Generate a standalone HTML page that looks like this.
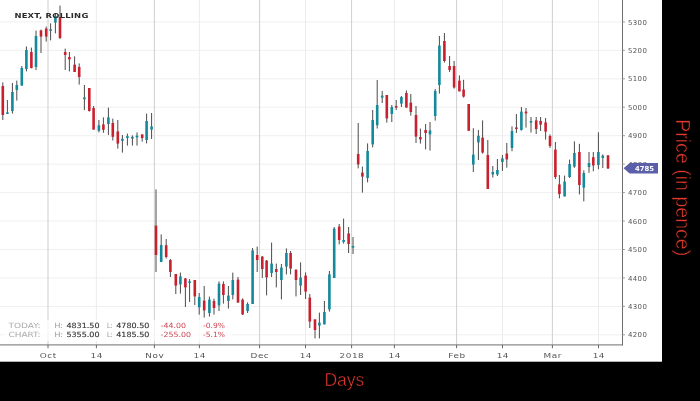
<!DOCTYPE html>
<html><head><meta charset="utf-8"><title>NEXT, ROLLING</title>
<style>
html,body{margin:0;padding:0;background:#000;}
body{width:700px;height:401px;overflow:hidden;position:relative;}
svg{position:absolute;left:0;top:0;display:block;}
.ax{font-family:"DejaVu Sans","Liberation Sans",sans-serif;fill:#555;}
.lg{font-family:"DejaVu Sans","Liberation Sans",sans-serif;font-size:7.2px;}
.ttl{font-family:"DejaVu Sans","Liberation Sans",sans-serif;font-weight:bold;font-size:6.8px;fill:#2a2a2a;}
.big{font-family:"Liberation Sans",sans-serif;fill:#e23a2e;stroke:#000;stroke-width:0.5px;}
</style></head><body>
<svg width="700" height="401" viewBox="0 0 700 401">
<rect x="0" y="0" width="700" height="401" fill="#000"/>
<rect x="0" y="0" width="662" height="361.7" fill="#fff"/>

<g stroke="#efefef" stroke-width="1">
<line x1="0" y1="334.8" x2="622.5" y2="334.8"/>
<line x1="0" y1="306.4" x2="622.5" y2="306.4"/>
<line x1="0" y1="277.9" x2="622.5" y2="277.9"/>
<line x1="0" y1="249.5" x2="622.5" y2="249.5"/>
<line x1="0" y1="221.0" x2="622.5" y2="221.0"/>
<line x1="0" y1="192.6" x2="622.5" y2="192.6"/>
<line x1="0" y1="164.1" x2="622.5" y2="164.1"/>
<line x1="0" y1="135.7" x2="622.5" y2="135.7"/>
<line x1="0" y1="107.2" x2="622.5" y2="107.2"/>
<line x1="0" y1="78.8" x2="622.5" y2="78.8"/>
<line x1="0" y1="50.3" x2="622.5" y2="50.3"/>
<line x1="0" y1="21.9" x2="622.5" y2="21.9"/>
</g>
<g stroke="#cfcfcf" stroke-width="1">
<line x1="48" y1="0" x2="48" y2="344.9"/>
<line x1="154.4" y1="0" x2="154.4" y2="344.9"/>
<line x1="259.6" y1="0" x2="259.6" y2="344.9"/>
<line x1="351.6" y1="0" x2="351.6" y2="344.9"/>
<line x1="456.6" y1="0" x2="456.6" y2="344.9"/>
<line x1="552.4" y1="0" x2="552.4" y2="344.9"/>
</g><g stroke="#ececec" stroke-width="1">
<line x1="96.4" y1="0" x2="96.4" y2="344.9"/>
<line x1="199.4" y1="0" x2="199.4" y2="344.9"/>
<line x1="305.5" y1="0" x2="305.5" y2="344.9"/>
<line x1="394.4" y1="0" x2="394.4" y2="344.9"/>
<line x1="502.5" y1="0" x2="502.5" y2="344.9"/>
<line x1="598.5" y1="0" x2="598.5" y2="344.9"/>
</g>
<g stroke="#4a4a4a" stroke-width="1"><line x1="2.8" y1="82.4" x2="2.8" y2="120.0"/><line x1="7.4" y1="100.0" x2="7.4" y2="114.0"/><line x1="12.4" y1="83.0" x2="12.4" y2="113.6"/><line x1="16.8" y1="80.6" x2="16.8" y2="100.6"/><line x1="21.8" y1="66.0" x2="21.8" y2="85.6"/><line x1="26.4" y1="46.4" x2="26.4" y2="71.4"/><line x1="31.4" y1="47.6" x2="31.4" y2="68.4"/><line x1="36.0" y1="30.6" x2="36.0" y2="70.0"/><line x1="41.0" y1="29.6" x2="41.0" y2="53.0"/><line x1="46.2" y1="26.6" x2="46.2" y2="41.6"/><line x1="50.6" y1="23.4" x2="50.6" y2="40.4"/><line x1="55.4" y1="13.0" x2="55.4" y2="33.4"/><line x1="60.0" y1="5.6" x2="60.0" y2="39.0"/><line x1="65.2" y1="48.6" x2="65.2" y2="70.0"/><line x1="69.4" y1="52.0" x2="69.4" y2="71.4"/><line x1="74.6" y1="56.4" x2="74.6" y2="72.0"/><line x1="79.2" y1="63.4" x2="79.2" y2="84.6"/><line x1="84.4" y1="85.0" x2="84.4" y2="110.0"/><line x1="89.3" y1="88.0" x2="89.3" y2="111.6"/><line x1="93.6" y1="106.0" x2="93.6" y2="129.6"/><line x1="98.9" y1="120.0" x2="98.9" y2="132.4"/><line x1="103.4" y1="117.4" x2="103.4" y2="132.8"/><line x1="108.4" y1="107.6" x2="108.4" y2="135.0"/><line x1="112.8" y1="118.6" x2="112.8" y2="140.5"/><line x1="117.8" y1="120.0" x2="117.8" y2="148.6"/><line x1="122.4" y1="135.0" x2="122.4" y2="152.6"/><line x1="127.4" y1="133.6" x2="127.4" y2="145.6"/><line x1="132.4" y1="135.4" x2="132.4" y2="145.6"/><line x1="137.0" y1="132.4" x2="137.0" y2="145.6"/><line x1="142.2" y1="134.4" x2="142.2" y2="141.6"/><line x1="146.6" y1="113.6" x2="146.6" y2="143.4"/><line x1="151.6" y1="113.0" x2="151.6" y2="139.0"/><line x1="156.0" y1="189.4" x2="156.0" y2="272.0"/><line x1="161.2" y1="234.4" x2="161.2" y2="262.0"/><line x1="166.2" y1="239.0" x2="166.2" y2="258.5"/><line x1="170.4" y1="259.0" x2="170.4" y2="277.0"/><line x1="175.8" y1="274.0" x2="175.8" y2="294.0"/><line x1="180.4" y1="272.6" x2="180.4" y2="293.6"/><line x1="185.4" y1="278.0" x2="185.4" y2="307.0"/><line x1="189.6" y1="279.0" x2="189.6" y2="302.0"/><line x1="194.8" y1="280.0" x2="194.8" y2="305.0"/><line x1="199.2" y1="293.0" x2="199.2" y2="314.6"/><line x1="204.2" y1="286.0" x2="204.2" y2="317.6"/><line x1="209.4" y1="296.6" x2="209.4" y2="316.6"/><line x1="214.0" y1="298.6" x2="214.0" y2="314.6"/><line x1="219.0" y1="281.4" x2="219.0" y2="311.0"/><line x1="223.4" y1="281.4" x2="223.4" y2="303.6"/><line x1="228.4" y1="286.0" x2="228.4" y2="308.6"/><line x1="232.8" y1="272.6" x2="232.8" y2="299.4"/><line x1="238.0" y1="277.0" x2="238.0" y2="302.6"/><line x1="242.6" y1="298.4" x2="242.6" y2="315.0"/><line x1="247.6" y1="302.4" x2="247.6" y2="313.0"/><line x1="252.6" y1="248.0" x2="252.6" y2="304.0"/><line x1="257.2" y1="246.6" x2="257.2" y2="272.0"/><line x1="262.3" y1="256.0" x2="262.3" y2="278.0"/><line x1="266.6" y1="260.0" x2="266.6" y2="295.4"/><line x1="271.6" y1="242.6" x2="271.6" y2="277.0"/><line x1="276.3" y1="263.6" x2="276.3" y2="287.4"/><line x1="281.4" y1="264.0" x2="281.4" y2="299.4"/><line x1="286.4" y1="248.4" x2="286.4" y2="274.4"/><line x1="290.6" y1="251.0" x2="290.6" y2="274.4"/><line x1="296.0" y1="269.6" x2="296.0" y2="296.4"/><line x1="300.6" y1="262.4" x2="300.6" y2="295.0"/><line x1="305.6" y1="272.4" x2="305.6" y2="299.0"/><line x1="309.8" y1="294.0" x2="309.8" y2="328.0"/><line x1="315.0" y1="319.4" x2="315.0" y2="338.4"/><line x1="319.4" y1="312.6" x2="319.4" y2="338.4"/><line x1="324.4" y1="301.0" x2="324.4" y2="324.4"/><line x1="329.4" y1="271.0" x2="329.4" y2="311.6"/><line x1="334.2" y1="227.0" x2="334.2" y2="278.0"/><line x1="339.2" y1="224.0" x2="339.2" y2="244.4"/><line x1="343.6" y1="218.6" x2="343.6" y2="243.6"/><line x1="348.6" y1="227.0" x2="348.6" y2="253.0"/><line x1="353.0" y1="237.0" x2="353.0" y2="254.0"/><line x1="358.2" y1="123.0" x2="358.2" y2="168.4"/><line x1="362.4" y1="166.6" x2="362.4" y2="192.6"/><line x1="367.6" y1="143.4" x2="367.6" y2="182.4"/><line x1="372.7" y1="110.0" x2="372.7" y2="147.4"/><line x1="377.2" y1="80.0" x2="377.2" y2="128.5"/><line x1="382.2" y1="91.0" x2="382.2" y2="103.0"/><line x1="386.8" y1="95.0" x2="386.8" y2="122.6"/><line x1="391.8" y1="105.0" x2="391.8" y2="122.0"/><line x1="396.2" y1="100.0" x2="396.2" y2="110.0"/><line x1="401.4" y1="96.0" x2="401.4" y2="107.0"/><line x1="406.4" y1="90.4" x2="406.4" y2="107.6"/><line x1="410.8" y1="94.0" x2="410.8" y2="115.6"/><line x1="416.0" y1="106.0" x2="416.0" y2="143.0"/><line x1="420.4" y1="128.6" x2="420.4" y2="143.6"/><line x1="425.6" y1="124.0" x2="425.6" y2="149.4"/><line x1="430.0" y1="122.0" x2="430.0" y2="150.6"/><line x1="435.2" y1="89.0" x2="435.2" y2="120.6"/><line x1="439.4" y1="36.0" x2="439.4" y2="93.6"/><line x1="444.4" y1="33.0" x2="444.4" y2="62.6"/><line x1="449.6" y1="56.0" x2="449.6" y2="72.0"/><line x1="454.1" y1="61.0" x2="454.1" y2="88.6"/><line x1="459.4" y1="75.4" x2="459.4" y2="91.4"/><line x1="463.6" y1="79.8" x2="463.6" y2="97.6"/><line x1="468.7" y1="104.0" x2="468.7" y2="130.8"/><line x1="473.3" y1="128.2" x2="473.3" y2="172.0"/><line x1="478.4" y1="130.0" x2="478.4" y2="160.0"/><line x1="482.6" y1="120.4" x2="482.6" y2="153.6"/><line x1="487.8" y1="140.0" x2="487.8" y2="189.0"/><line x1="492.8" y1="166.0" x2="492.8" y2="177.6"/><line x1="497.4" y1="159.0" x2="497.4" y2="176.0"/><line x1="502.4" y1="155.0" x2="502.4" y2="171.0"/><line x1="506.8" y1="143.0" x2="506.8" y2="167.6"/><line x1="512.0" y1="126.4" x2="512.0" y2="151.2"/><line x1="516.4" y1="114.0" x2="516.4" y2="133.0"/><line x1="521.4" y1="107.0" x2="521.4" y2="130.6"/><line x1="526.0" y1="108.0" x2="526.0" y2="127.6"/><line x1="531.0" y1="117.0" x2="531.0" y2="132.6"/><line x1="536.2" y1="117.0" x2="536.2" y2="134.0"/><line x1="540.6" y1="117.0" x2="540.6" y2="131.0"/><line x1="545.6" y1="118.0" x2="545.6" y2="139.6"/><line x1="550.0" y1="134.4" x2="550.0" y2="148.0"/><line x1="555.4" y1="142.0" x2="555.4" y2="179.0"/><line x1="559.4" y1="175.0" x2="559.4" y2="198.4"/><line x1="564.6" y1="175.6" x2="564.6" y2="196.4"/><line x1="569.6" y1="159.6" x2="569.6" y2="178.0"/><line x1="574.4" y1="141.4" x2="574.4" y2="167.8"/><line x1="579.4" y1="143.8" x2="579.4" y2="194.4"/><line x1="583.8" y1="170.4" x2="583.8" y2="201.4"/><line x1="589.0" y1="152.0" x2="589.0" y2="172.8"/><line x1="593.3" y1="152.0" x2="593.3" y2="171.3"/><line x1="598.4" y1="132.3" x2="598.4" y2="169.2"/><line x1="602.8" y1="154.4" x2="602.8" y2="168.0"/><line x1="608.0" y1="155.0" x2="608.0" y2="169.0"/></g>
<g><rect x="1.50" y="86.0" width="2.6" height="29.0" fill="#c8202f"/><rect x="6.10" y="112.4" width="2.6" height="1.6" fill="#14899b"/><rect x="11.10" y="92.0" width="2.6" height="19.0" fill="#14899b"/><rect x="15.50" y="85.0" width="2.6" height="5.0" fill="#14899b"/><rect x="20.50" y="68.0" width="2.6" height="17.6" fill="#14899b"/><rect x="25.10" y="50.0" width="2.6" height="19.0" fill="#14899b"/><rect x="30.10" y="52.0" width="2.6" height="16.0" fill="#c8202f"/><rect x="34.70" y="36.0" width="2.6" height="31.0" fill="#14899b"/><rect x="39.70" y="30.4" width="2.6" height="6.2" fill="#c8202f"/><rect x="44.90" y="28.6" width="2.6" height="8.0" fill="#c8202f"/><rect x="49.30" y="29.2" width="2.6" height="1.6" fill="#14899b"/><rect x="54.10" y="16.0" width="2.6" height="6.6" fill="#14899b"/><rect x="58.70" y="17.0" width="2.6" height="21.0" fill="#c8202f"/><rect x="63.90" y="52.0" width="2.6" height="3.0" fill="#c8202f"/><rect x="68.10" y="57.0" width="2.6" height="2.4" fill="#c8202f"/><rect x="73.30" y="64.6" width="2.6" height="7.4" fill="#c8202f"/><rect x="77.90" y="67.0" width="2.6" height="10.0" fill="#c8202f"/><rect x="83.10" y="97.4" width="2.6" height="1.8" fill="#14899b"/><rect x="88.00" y="88.0" width="2.6" height="23.0" fill="#c8202f"/><rect x="92.30" y="108.0" width="2.6" height="21.6" fill="#c8202f"/><rect x="97.60" y="125.3" width="2.6" height="5.5" fill="#14899b"/><rect x="102.10" y="124.4" width="2.6" height="5.4" fill="#c8202f"/><rect x="107.10" y="117.4" width="2.6" height="6.6" fill="#14899b"/><rect x="111.50" y="123.0" width="2.6" height="13.8" fill="#c8202f"/><rect x="116.50" y="131.4" width="2.6" height="12.2" fill="#c8202f"/><rect x="121.10" y="138.8" width="2.6" height="2.0" fill="#14899b"/><rect x="126.10" y="136.2" width="2.6" height="1.8" fill="#14899b"/><rect x="131.10" y="136.8" width="2.6" height="1.8" fill="#14899b"/><rect x="135.70" y="135.6" width="2.6" height="1.8" fill="#14899b"/><rect x="140.90" y="134.4" width="2.6" height="3.6" fill="#c8202f"/><rect x="145.30" y="121.0" width="2.6" height="19.0" fill="#14899b"/><rect x="150.30" y="126.4" width="2.6" height="3.2" fill="#14899b"/><rect x="154.70" y="225.6" width="2.6" height="29.4" fill="#c8202f"/><rect x="159.90" y="245.0" width="2.6" height="17.0" fill="#14899b"/><rect x="164.90" y="245.2" width="2.6" height="11.8" fill="#c8202f"/><rect x="169.10" y="260.0" width="2.6" height="12.0" fill="#c8202f"/><rect x="174.50" y="274.0" width="2.6" height="11.6" fill="#c8202f"/><rect x="179.10" y="276.4" width="2.6" height="8.0" fill="#14899b"/><rect x="184.10" y="278.4" width="2.6" height="9.0" fill="#c8202f"/><rect x="188.30" y="281.4" width="2.6" height="1.6" fill="#14899b"/><rect x="193.50" y="280.0" width="2.6" height="16.4" fill="#c8202f"/><rect x="197.90" y="297.0" width="2.6" height="10.4" fill="#14899b"/><rect x="202.90" y="300.6" width="2.6" height="9.8" fill="#c8202f"/><rect x="208.10" y="299.6" width="2.6" height="13.4" fill="#14899b"/><rect x="212.70" y="301.0" width="2.6" height="7.0" fill="#c8202f"/><rect x="217.70" y="283.6" width="2.6" height="21.8" fill="#14899b"/><rect x="222.10" y="284.0" width="2.6" height="11.0" fill="#c8202f"/><rect x="227.10" y="295.6" width="2.6" height="5.4" fill="#14899b"/><rect x="231.50" y="280.0" width="2.6" height="15.0" fill="#14899b"/><rect x="236.70" y="279.6" width="2.6" height="23.0" fill="#c8202f"/><rect x="241.30" y="299.6" width="2.6" height="14.8" fill="#c8202f"/><rect x="246.30" y="304.0" width="2.6" height="7.0" fill="#14899b"/><rect x="251.30" y="250.4" width="2.6" height="53.6" fill="#14899b"/><rect x="255.90" y="255.0" width="2.6" height="5.0" fill="#c8202f"/><rect x="261.00" y="256.6" width="2.6" height="12.4" fill="#c8202f"/><rect x="265.30" y="260.6" width="2.6" height="16.8" fill="#c8202f"/><rect x="270.30" y="263.6" width="2.6" height="9.4" fill="#14899b"/><rect x="275.00" y="269.0" width="2.6" height="3.0" fill="#c8202f"/><rect x="280.10" y="267.6" width="2.6" height="12.4" fill="#14899b"/><rect x="285.10" y="253.0" width="2.6" height="13.6" fill="#14899b"/><rect x="289.30" y="253.0" width="2.6" height="15.6" fill="#c8202f"/><rect x="294.70" y="269.6" width="2.6" height="10.4" fill="#c8202f"/><rect x="299.30" y="277.6" width="2.6" height="8.0" fill="#14899b"/><rect x="304.30" y="275.6" width="2.6" height="16.0" fill="#c8202f"/><rect x="308.50" y="297.6" width="2.6" height="24.0" fill="#c8202f"/><rect x="313.70" y="319.4" width="2.6" height="10.6" fill="#c8202f"/><rect x="318.10" y="322.6" width="2.6" height="3.0" fill="#14899b"/><rect x="323.10" y="312.0" width="2.6" height="12.4" fill="#14899b"/><rect x="328.10" y="274.4" width="2.6" height="35.0" fill="#14899b"/><rect x="332.90" y="228.6" width="2.6" height="49.4" fill="#14899b"/><rect x="337.90" y="226.6" width="2.6" height="13.4" fill="#c8202f"/><rect x="342.30" y="240.0" width="2.6" height="2.0" fill="#14899b"/><rect x="347.30" y="233.4" width="2.6" height="10.6" fill="#c8202f"/><rect x="351.70" y="246.0" width="2.6" height="1.6" fill="#14899b"/><rect x="356.90" y="154.0" width="2.6" height="10.4" fill="#c8202f"/><rect x="361.10" y="172.6" width="2.6" height="4.0" fill="#c8202f"/><rect x="366.30" y="151.0" width="2.6" height="27.0" fill="#14899b"/><rect x="371.40" y="120.0" width="2.6" height="24.4" fill="#14899b"/><rect x="375.90" y="105.0" width="2.6" height="20.2" fill="#14899b"/><rect x="380.90" y="95.6" width="2.6" height="2.0" fill="#14899b"/><rect x="385.50" y="95.0" width="2.6" height="23.4" fill="#c8202f"/><rect x="390.50" y="107.0" width="2.6" height="7.0" fill="#14899b"/><rect x="394.90" y="106.0" width="2.6" height="1.6" fill="#c8202f"/><rect x="400.10" y="97.0" width="2.6" height="6.6" fill="#14899b"/><rect x="405.10" y="93.0" width="2.6" height="14.6" fill="#c8202f"/><rect x="409.50" y="102.6" width="2.6" height="9.4" fill="#c8202f"/><rect x="414.70" y="115.0" width="2.6" height="21.6" fill="#c8202f"/><rect x="419.10" y="137.0" width="2.6" height="2.4" fill="#c8202f"/><rect x="424.30" y="130.0" width="2.6" height="3.0" fill="#c8202f"/><rect x="428.70" y="130.4" width="2.6" height="4.0" fill="#14899b"/><rect x="433.90" y="91.0" width="2.6" height="25.0" fill="#14899b"/><rect x="438.10" y="45.6" width="2.6" height="39.4" fill="#14899b"/><rect x="443.10" y="41.0" width="2.6" height="20.0" fill="#c8202f"/><rect x="448.30" y="66.0" width="2.6" height="4.0" fill="#c8202f"/><rect x="452.80" y="66.0" width="2.6" height="21.5" fill="#c8202f"/><rect x="458.10" y="80.6" width="2.6" height="10.8" fill="#c8202f"/><rect x="462.30" y="89.5" width="2.6" height="7.1" fill="#c8202f"/><rect x="467.40" y="104.0" width="2.6" height="26.8" fill="#c8202f"/><rect x="472.00" y="154.6" width="2.6" height="10.0" fill="#14899b"/><rect x="477.10" y="135.8" width="2.6" height="6.6" fill="#14899b"/><rect x="481.30" y="137.6" width="2.6" height="15.0" fill="#c8202f"/><rect x="486.50" y="155.0" width="2.6" height="34.0" fill="#c8202f"/><rect x="491.50" y="172.0" width="2.6" height="2.4" fill="#14899b"/><rect x="496.10" y="170.0" width="2.6" height="4.4" fill="#14899b"/><rect x="501.10" y="158.4" width="2.6" height="3.6" fill="#14899b"/><rect x="505.50" y="153.6" width="2.6" height="5.8" fill="#c8202f"/><rect x="510.70" y="131.0" width="2.6" height="17.0" fill="#14899b"/><rect x="515.10" y="127.4" width="2.6" height="1.6" fill="#c8202f"/><rect x="520.10" y="111.6" width="2.6" height="18.4" fill="#14899b"/><rect x="524.70" y="111.6" width="2.6" height="1.8" fill="#c8202f"/><rect x="529.70" y="121.0" width="2.6" height="1.6" fill="#14899b"/><rect x="534.90" y="120.4" width="2.6" height="8.6" fill="#c8202f"/><rect x="539.30" y="121.0" width="2.6" height="3.6" fill="#c8202f"/><rect x="544.30" y="122.4" width="2.6" height="9.2" fill="#c8202f"/><rect x="548.70" y="136.0" width="2.6" height="10.0" fill="#c8202f"/><rect x="554.10" y="149.6" width="2.6" height="27.4" fill="#c8202f"/><rect x="558.10" y="184.4" width="2.6" height="9.6" fill="#c8202f"/><rect x="563.30" y="181.6" width="2.6" height="14.8" fill="#14899b"/><rect x="568.30" y="164.0" width="2.6" height="13.0" fill="#14899b"/><rect x="573.10" y="153.0" width="2.6" height="13.6" fill="#14899b"/><rect x="578.10" y="152.0" width="2.6" height="33.0" fill="#c8202f"/><rect x="582.50" y="173.0" width="2.6" height="14.6" fill="#14899b"/><rect x="587.70" y="163.0" width="2.6" height="4.0" fill="#14899b"/><rect x="592.00" y="157.2" width="2.6" height="8.3" fill="#c8202f"/><rect x="597.10" y="152.0" width="2.6" height="13.0" fill="#14899b"/><rect x="601.50" y="155.6" width="2.6" height="2.4" fill="#14899b"/><rect x="606.70" y="155.4" width="2.6" height="13.0" fill="#c8202f"/></g>
<rect x="4" y="320" width="228" height="21" fill="#fff" fill-opacity="0.7"/>
<line x1="0" y1="344.9" x2="623.0" y2="344.9" stroke="#8c8c8c" stroke-width="1.2"/>
<line x1="622.5" y1="0" x2="622.5" y2="345.4" stroke="#6e6e6e" stroke-width="1"/>
<g stroke="#666" stroke-width="1">
<line x1="48" y1="344.9" x2="48" y2="348.2"/>
<line x1="154.4" y1="344.9" x2="154.4" y2="348.2"/>
<line x1="259.6" y1="344.9" x2="259.6" y2="348.2"/>
<line x1="351.6" y1="344.9" x2="351.6" y2="348.2"/>
<line x1="456.6" y1="344.9" x2="456.6" y2="348.2"/>
<line x1="552.4" y1="344.9" x2="552.4" y2="348.2"/>
<line x1="96.4" y1="344.9" x2="96.4" y2="348.2"/>
<line x1="199.4" y1="344.9" x2="199.4" y2="348.2"/>
<line x1="305.5" y1="344.9" x2="305.5" y2="348.2"/>
<line x1="394.4" y1="344.9" x2="394.4" y2="348.2"/>
<line x1="502.5" y1="344.9" x2="502.5" y2="348.2"/>
<line x1="598.5" y1="344.9" x2="598.5" y2="348.2"/>
<line x1="622.5" y1="334.8" x2="624.9" y2="334.8" stroke="#999"/>
<line x1="622.5" y1="306.4" x2="624.9" y2="306.4" stroke="#999"/>
<line x1="622.5" y1="277.9" x2="624.9" y2="277.9" stroke="#999"/>
<line x1="622.5" y1="249.5" x2="624.9" y2="249.5" stroke="#999"/>
<line x1="622.5" y1="221.0" x2="624.9" y2="221.0" stroke="#999"/>
<line x1="622.5" y1="192.6" x2="624.9" y2="192.6" stroke="#999"/>
<line x1="622.5" y1="164.1" x2="624.9" y2="164.1" stroke="#999"/>
<line x1="622.5" y1="135.7" x2="624.9" y2="135.7" stroke="#999"/>
<line x1="622.5" y1="107.2" x2="624.9" y2="107.2" stroke="#999"/>
<line x1="622.5" y1="78.8" x2="624.9" y2="78.8" stroke="#999"/>
<line x1="622.5" y1="50.3" x2="624.9" y2="50.3" stroke="#999"/>
<line x1="622.5" y1="21.9" x2="624.9" y2="21.9" stroke="#999"/>
</g>
<g class="ax" font-size="7.8" text-anchor="middle" letter-spacing="0.45">
<text transform="translate(48.3 358.4) scale(1.14 1)">Oct</text>
<text transform="translate(154.70000000000002 358.4) scale(1.14 1)">Nov</text>
<text transform="translate(259.90000000000003 358.4) scale(1.14 1)">Dec</text>
<text transform="translate(351.90000000000003 358.4) scale(1.14 1)">2018</text>
<text transform="translate(456.90000000000003 358.4) scale(1.14 1)">Feb</text>
<text transform="translate(552.6999999999999 358.4) scale(1.14 1)">Mar</text>
<text transform="translate(96.7 358.4) scale(1.14 1)">14</text>
<text transform="translate(199.70000000000002 358.4) scale(1.14 1)">14</text>
<text transform="translate(305.8 358.4) scale(1.14 1)">14</text>
<text transform="translate(394.7 358.4) scale(1.14 1)">14</text>
<text transform="translate(502.8 358.4) scale(1.14 1)">14</text>
<text transform="translate(598.8 358.4) scale(1.14 1)">14</text>
</g>
<g class="ax" font-size="6.8" letter-spacing="0.35">
<text x="628" y="337.4" textLength="19.2" lengthAdjust="spacingAndGlyphs">4200</text>
<text x="628" y="309.0" textLength="19.2" lengthAdjust="spacingAndGlyphs">4300</text>
<text x="628" y="280.5" textLength="19.2" lengthAdjust="spacingAndGlyphs">4400</text>
<text x="628" y="252.1" textLength="19.2" lengthAdjust="spacingAndGlyphs">4500</text>
<text x="628" y="223.6" textLength="19.2" lengthAdjust="spacingAndGlyphs">4600</text>
<text x="628" y="195.2" textLength="19.2" lengthAdjust="spacingAndGlyphs">4700</text>
<text x="628" y="138.3" textLength="19.2" lengthAdjust="spacingAndGlyphs">4900</text>
<text x="628" y="109.8" textLength="19.2" lengthAdjust="spacingAndGlyphs">5000</text>
<text x="628" y="81.4" textLength="19.2" lengthAdjust="spacingAndGlyphs">5100</text>
<text x="628" y="52.9" textLength="19.2" lengthAdjust="spacingAndGlyphs">5200</text>
<text x="628" y="24.5" textLength="19.2" lengthAdjust="spacingAndGlyphs">5300</text>
</g>
<text class="ax" font-size="6.8" x="628" y="166.7" textLength="19.2" lengthAdjust="spacingAndGlyphs">4800</text>
<path d="M623.6 168.2 L629.6 163.0 L658 163.0 L658 173.39999999999998 L629.6 173.39999999999998 Z" fill="#5b5fa8"/>
<text x="635" y="170.79999999999998" font-family="DejaVu Sans,Liberation Sans,sans-serif" font-weight="bold" font-size="6.8" fill="#fff" textLength="19" lengthAdjust="spacingAndGlyphs">4785</text>
<text class="ttl" transform="translate(14.4 17.8) scale(1.24 1)" textLength="59.6" lengthAdjust="spacing">NEXT, ROLLING</text>
<text class="lg" x="8.4" y="328.2" fill="#aaa" textLength="32.2" lengthAdjust="spacingAndGlyphs">TODAY:</text>
<text class="lg" x="54.4" y="328.2" fill="#999" textLength="8.6" lengthAdjust="spacingAndGlyphs">H:</text>
<text class="lg" x="66.4" y="328.2" fill="#333" stroke="#333" stroke-width="0.12" textLength="33.2" lengthAdjust="spacingAndGlyphs">4831.50</text>
<text class="lg" x="107" y="328.2" fill="#999" textLength="5.6" lengthAdjust="spacingAndGlyphs">L:</text>
<text class="lg" x="116.2" y="328.2" fill="#333" stroke="#333" stroke-width="0.12" textLength="33.2" lengthAdjust="spacingAndGlyphs">4780.50</text>
<text class="lg" x="160.6" y="328.2" fill="#d0434f" textLength="25.4" lengthAdjust="spacingAndGlyphs">-44.00</text>
<text class="lg" x="203" y="328.2" fill="#d0434f" textLength="22" lengthAdjust="spacingAndGlyphs">-0.9%</text>
<text class="lg" x="8.4" y="337.2" fill="#aaa" textLength="32.2" lengthAdjust="spacingAndGlyphs">CHART:</text>
<text class="lg" x="54.4" y="337.2" fill="#999" textLength="8.6" lengthAdjust="spacingAndGlyphs">H:</text>
<text class="lg" x="66.4" y="337.2" fill="#333" stroke="#333" stroke-width="0.12" textLength="33.2" lengthAdjust="spacingAndGlyphs">5355.00</text>
<text class="lg" x="107" y="337.2" fill="#999" textLength="5.6" lengthAdjust="spacingAndGlyphs">L:</text>
<text class="lg" x="116.2" y="337.2" fill="#333" stroke="#333" stroke-width="0.12" textLength="33.2" lengthAdjust="spacingAndGlyphs">4185.50</text>
<text class="lg" x="160.6" y="337.2" fill="#d0434f" textLength="30.4" lengthAdjust="spacingAndGlyphs">-255.00</text>
<text class="lg" x="203" y="337.2" fill="#d0434f" textLength="22" lengthAdjust="spacingAndGlyphs">-5.1%</text>
<text class="big" x="324.4" y="386" font-size="18" textLength="40" lengthAdjust="spacingAndGlyphs">Days</text>
<text class="big" transform="translate(675.6 119.2) rotate(90)" font-size="20" textLength="137" lengthAdjust="spacingAndGlyphs">Price (in pence)</text>
</svg></body></html>
